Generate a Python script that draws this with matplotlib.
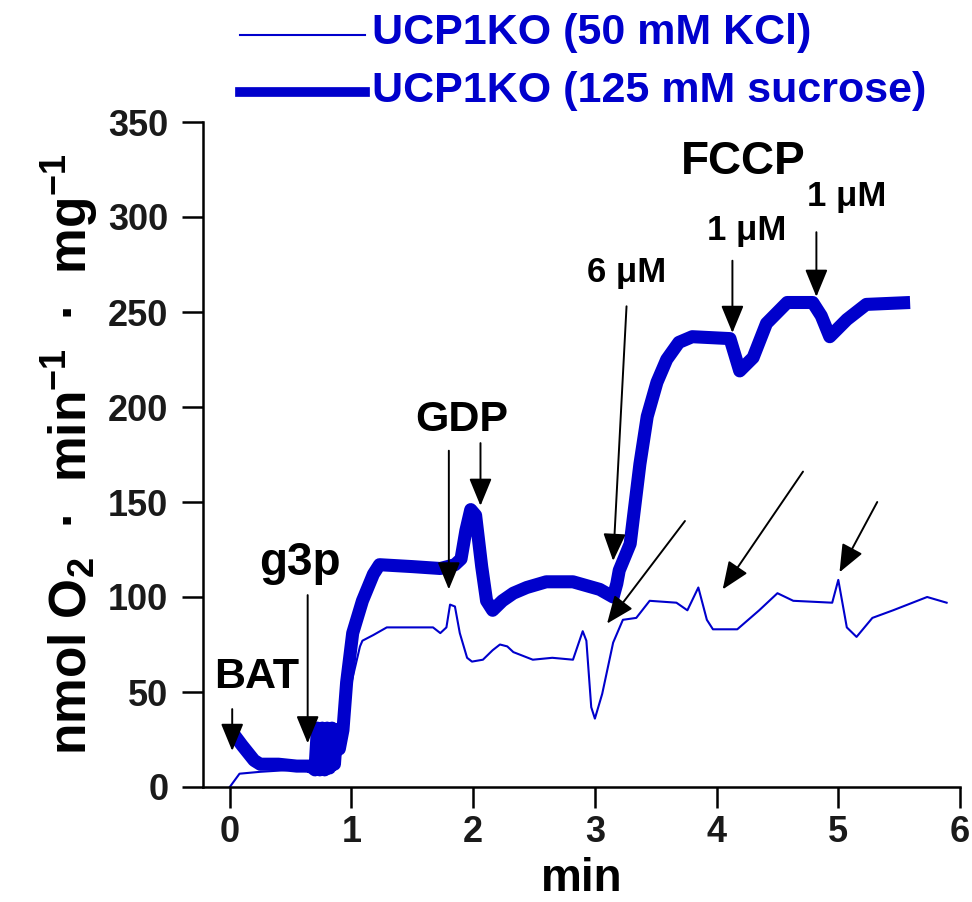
import matplotlib
matplotlib.use('Agg')
import matplotlib.pyplot as plt
from matplotlib.lines import Line2D

# Oxygen consumption traces (time in min, rate in nmol O2/min/mg)
t_kcl = [0.0, 0.08, 0.25, 0.5, 0.7, 0.75, 0.9, 1.0, 1.07, 1.09, 1.18, 1.29, 1.67,
         1.73, 1.78, 1.81, 1.85, 1.89, 1.95, 1.99, 2.08, 2.16, 2.22, 2.28, 2.33,
         2.49, 2.65, 2.82, 2.9, 2.93, 2.97, 3.0, 3.06, 3.15, 3.23, 3.34, 3.45,
         3.67, 3.76, 3.85, 3.92, 3.97, 4.17, 4.35, 4.5, 4.63, 4.95, 5.0, 5.07,
         5.15, 5.28, 5.45, 5.73, 5.89]
v_kcl = [0, 7, 8, 9, 8, 20, 30, 55, 74, 77, 80, 84, 84,
         81, 84, 96, 95, 81, 68, 66, 67, 72, 75, 74, 71,
         67, 68, 67, 82, 77, 42, 36, 49, 76, 88, 89, 98,
         97, 93, 105, 88, 83, 83, 93, 102, 98, 97, 109, 84,
         79, 89, 93, 100, 97]

t_suc = [0.03, 0.1, 0.2, 0.25, 0.4, 0.55, 0.66, 0.7, 0.72, 0.74, 0.76, 0.78,
         0.8, 0.82, 0.84, 0.86, 0.88, 0.9, 0.93, 0.96, 1.01, 1.09, 1.18, 1.23,
         1.5, 1.73, 1.85, 1.9, 1.94, 1.98, 2.02, 2.07, 2.11, 2.16, 2.24, 2.33,
         2.44, 2.6, 2.82, 3.04, 3.15, 3.18, 3.2, 3.29, 3.37, 3.43, 3.51, 3.59,
         3.69, 3.8, 4.11, 4.19, 4.3, 4.41, 4.58, 4.79, 4.86, 4.93, 5.07, 5.23,
         5.59]
v_suc = [28, 22, 14, 12, 12, 11, 11, 9, 31, 9, 31, 9,
         31, 10, 31, 12, 30, 20, 30, 55, 81, 98, 112, 117,
         116, 115, 117, 120, 135, 146, 143, 116, 98, 93, 98, 102,
         105, 108, 108, 104, 100, 107, 114, 128, 170, 195, 213, 225,
         234, 237, 236, 219, 226, 244, 255, 255, 248, 237, 246, 254,
         255]

blue = '#0000cc'
plt.rcParams['font.family'] = ['Liberation Sans', 'DejaVu Sans']
plt.rcParams['font.weight'] = 'bold'
plt.rcParams['mathtext.fontset'] = 'custom'
plt.rcParams['mathtext.rm'] = 'Liberation Sans:bold'
plt.rcParams['mathtext.bf'] = 'Liberation Sans:bold'
plt.rcParams['mathtext.default'] = 'rm'

fig = plt.figure(figsize=(9.72, 9.02), dpi=100)
ax = fig.add_axes([203 / 972, 1 - 787 / 902, 757 / 972, 665 / 902])

ax.plot(t_kcl, v_kcl, color=blue, lw=1.5, solid_joinstyle='round')
ax.plot(t_suc, v_suc, color=blue, lw=9.4, solid_joinstyle='round',
        solid_capstyle='butt')

ax.set_xlim(-0.22, 6)
ax.set_ylim(0, 350)
ax.set_xticks(range(0, 7))
ax.set_yticks(range(0, 351, 50))
for s in ['top', 'right']:
    ax.spines[s].set_visible(False)
for s in ['left', 'bottom']:
    ax.spines[s].set_linewidth(1.8)
ax.tick_params(direction='out', length=15, width=1.8, labelsize=26,
               labelcolor='#1a1a1a')
ax.tick_params(axis='y', pad=10)
ax.tick_params(axis='x', pad=5)

ax.set_xlabel('min', fontsize=33, fontweight='bold')
ax.xaxis.set_label_coords(0.5, -0.105)
ax.set_ylabel('nmol O$_2$  ·  min$^{-1}$  ·  mg$^{-1}$',
              fontsize=37, fontweight='bold')
ax.yaxis.set_label_coords(-0.135, 0.5)

# legend drawn by hand at the top
fig.add_artist(Line2D([240 / 972, 365 / 972], [1 - 35 / 902] * 2, color=blue, lw=1.5))
fig.add_artist(Line2D([240 / 972, 365 / 972], [1 - 92 / 902] * 2, color=blue, lw=7))
fig.text(372 / 972, 1 - 33 / 902, 'UCP1KO (50 mM KCl)', color=blue, fontsize=31,
         fontweight='bold', va='center', ha='left')
fig.text(372 / 972, 1 - 91 / 902, 'UCP1KO (125 mM sucrose)', color=blue, fontsize=31,
         fontweight='bold', va='center', ha='left')

# Additions: labels and arrows
ax.text(0.22, 58, 'BAT', fontsize=31, ha='center', va='center')
ax.text(0.58, 118, 'g3p', fontsize=33, ha='center', va='center')
ax.text(1.91, 193, 'GDP', fontsize=31, ha='center', va='center')
ax.text(4.22, 329, 'FCCP', fontsize=33, ha='center', va='center')
ax.text(3.26, 271, '6 μM', fontsize=25, ha='center', va='center')
ax.text(4.25, 293, '1 μM', fontsize=25, ha='center', va='center')
ax.text(5.07, 311, '1 μM', fontsize=25, ha='center', va='center')

arrows = [((0.02, 41), (0.02, 19)),
          ((0.64, 101), (0.64, 23)),
          ((1.8, 177), (1.8, 104)),
          ((2.06, 181), (2.06, 148)),
          ((3.26, 253), (3.15, 119)),
          ((4.13, 277), (4.13, 239)),
          ((4.82, 292), (4.82, 258)),
          ((3.74, 140), (3.1, 86)),
          ((4.71, 166), (4.05, 104)),
          ((5.32, 150), (5.01, 113))]
for (x0, y0), (x1, y1) in arrows:
    ax.annotate('', xy=(x1, y1), xytext=(x0, y0),
                arrowprops=dict(arrowstyle='-|>,head_length=0.85,head_width=0.35',
                                mutation_scale=20, color='black', lw=1.4,
                                shrinkA=0, shrinkB=0))

plt.savefig('out.png', dpi=100)
